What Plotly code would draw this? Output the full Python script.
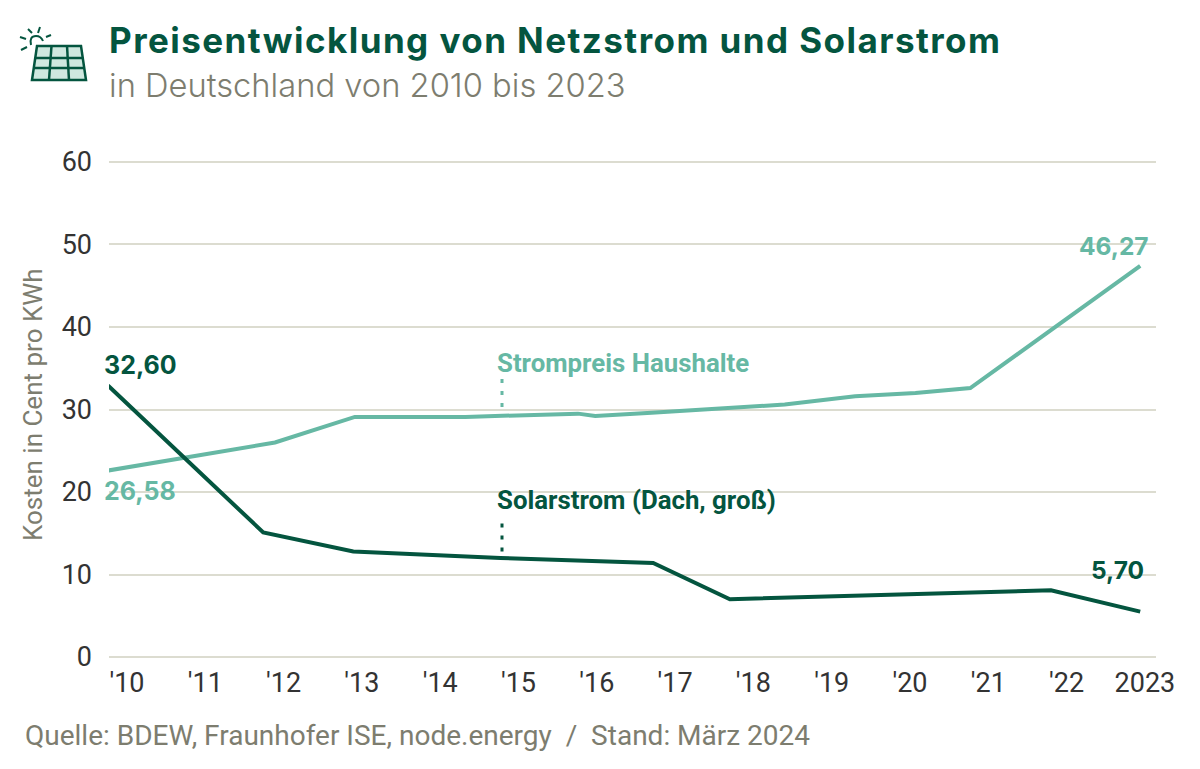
import plotly.graph_objects as go

# --- data ---
tick_labels = ["'10","'11","'12","'13","'14","'15","'16","'17","'18","'19","'20","'21","'22","2023"]
strom_x = [-0.243, 1.89, 2.91, 4.32, 5.76, 5.98, 6.7, 8.4, 9.3, 10.07, 10.77, 12.94]
strom_y = [22.6, 26.0, 29.1, 29.1, 29.5, 29.2, 29.6, 30.6, 31.6, 32.0, 32.6, 47.4]
solar_x = [-0.243, 1.74, 2.89, 4.77, 6.72, 7.7, 11.8, 12.94]
solar_y = [32.9, 15.1, 12.8, 12.0, 11.4, 7.0, 8.1, 5.5]

DARK = "#04553f"; LIGHT = "#66b8a4"; GREY = "#7d7d6f"; GRID = "#dcdcd0"; TXT = "#333333"
W, H = 1200, 769
L, R, T, B = 109, 44, 159, 109

def pxx(p): return (p - L) / (W - L - R)
def pxy(p): return 1 - (p - T) / (H - T - B)
def xval(p): return (p - 127) / 78.3

fig = go.Figure()
fig.add_trace(go.Scatter(x=strom_x, y=strom_y, mode="lines", line=dict(color=LIGHT, width=4), cliponaxis=False, showlegend=False))
fig.add_trace(go.Scatter(x=solar_x, y=solar_y, mode="lines", line=dict(color=DARK, width=4), cliponaxis=False, showlegend=False))

shapes = []
# leader lines
shapes.append(dict(type="line", xref="x", yref="y", x0=xval(502), x1=xval(502), y0=30.3, y1=34.0, line=dict(color=LIGHT, width=3, dash="4px,8px")))
shapes.append(dict(type="line", xref="x", yref="y", x0=xval(502), x1=xval(502), y0=12.8, y1=16.6, line=dict(color=DARK, width=3, dash="4px,8px")))
# icon: panel
def P(pts):
    return "M " + " L ".join(f"{pxx(a):.5f},{pxy(b):.5f}" for a, b in pts) + " Z"
shapes.append(dict(type="path", xref="paper", yref="paper", path=P([(37,46),(81,46),(86,80),(32,80)]), fillcolor="#cfe8df", line=dict(color=DARK, width=2.5)))
for a, b in [((51.5,46),(49,80)), ((67,46),(69,80)), ((35.5,58),(83,58)), ((34,68),(85,68))]:
    shapes.append(dict(type="line", xref="paper", yref="paper", x0=pxx(a[0]), y0=pxy(a[1]), x1=pxx(b[0]), y1=pxy(b[1]), line=dict(color=DARK, width=2.5)))
# icon: sun
for a, b in [((20,37),(26,39)), ((28,29),(32,33)), ((40,27),(38,33)), ((46,37),(51,35)), ((21,50),(27,47))]:
    shapes.append(dict(type="line", xref="paper", yref="paper", x0=pxx(a[0]), y0=pxy(a[1]), x1=pxx(b[0]), y1=pxy(b[1]), line=dict(color=DARK, width=2)))
shapes.append(dict(type="path", xref="paper", yref="paper",
    path=f"M {pxx(31):.5f},{pxy(45):.5f} Q {pxx(29):.5f},{pxy(36):.5f} {pxx(36):.5f},{pxy(36):.5f} Q {pxx(41):.5f},{pxy(36):.5f} {pxx(43):.5f},{pxy(41):.5f}",
    line=dict(color=DARK, width=2)))

def ann(text, xp, yp, size, color, anchor="left", family="Roboto", bold=False, angle=0, weight=None):
    t = f"<b>{text}</b>" if bold else text
    f = dict(family=family, size=size, color=color)
    if weight:
        f["weight"] = weight
    fig.add_annotation(xref="paper", yref="paper", x=pxx(xp), y=pxy(yp), text=t, showarrow=False,
                       xanchor=anchor, yanchor="middle", textangle=angle, align="left", font=f)

TITLE_FONT = "Inter"
ann("Preisentwicklung von Netzstrom und Solarstrom", 107, 40, 35, DARK, family=TITLE_FONT, bold=True)
ann("in Deutschland von 2010 bis 2023", 107, 85, 32.7, GREY, family=TITLE_FONT, weight=300)
ann("Strompreis Haushalte", 495, 363, 25.8, LIGHT, bold=True)
ann("Solarstrom (Dach, groß)", 495, 500, 25.8, DARK, bold=True)
ann("46,27", 1151, 246, 24.5, LIGHT, anchor="right", family=TITLE_FONT, bold=True)
ann("5,70", 1146, 570, 24.5, DARK, anchor="right", family=TITLE_FONT, bold=True)
ann("32,60", 102, 365, 25, DARK, family=TITLE_FONT, bold=True)
ann("26,58", 102, 491, 25, LIGHT, family=TITLE_FONT, bold=True)
ann("Kosten in Cent pro KWh", 33, 405, 26, GREY, anchor="center", angle=-90)
ann("Quelle: BDEW, Fraunhofer ISE, node.energy  /  Stand: März 2024", 23, 735, 28, GREY)

fig.update_layout(
    width=W, height=H, margin=dict(l=L, r=R, t=T, b=B, pad=0),
    plot_bgcolor="white", paper_bgcolor="white", shapes=shapes,
    font=dict(family="Roboto", color=TXT),
    xaxis=dict(range=[xval(L), xval(W - R)], tickmode="array", tickvals=list(range(len(tick_labels))),
               ticktext=tick_labels, showgrid=False, zeroline=False, showline=False, ticks="",
               tickfont=dict(family="Roboto", size=27, color=TXT), ticklabelstandoff=4),
    yaxis=dict(range=[-0.36, 60.36], tickmode="array", tickvals=[0,10,20,30,40,50,60], showgrid=True, gridcolor=GRID, gridwidth=2,
               zeroline=False, showline=False, ticks="", tickfont=dict(family="Roboto", size=27, color=TXT), ticklabelstandoff=16),
)

POST = """
document.body.style.margin='0';document.body.style.overflow='hidden';
document.querySelectorAll('text.annotation-text').forEach(function(t){
  if (t.textContent.indexOf('Preisentwicklung') === 0) { t.style.letterSpacing = '1.45px'; }
});
"""
fig.write_html("out.html", config=dict(displayModeBar=False), post_script=POST)
